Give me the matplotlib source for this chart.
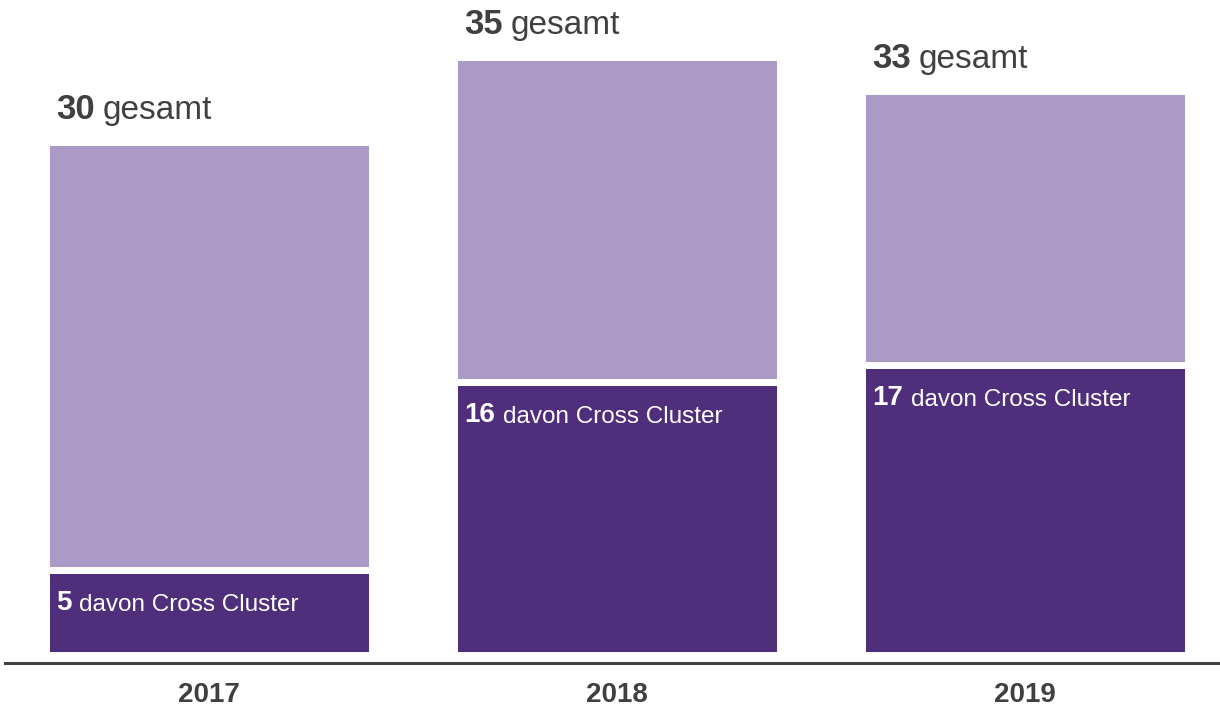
import numpy as np
import matplotlib
matplotlib.use("Agg")
import matplotlib.pyplot as plt

plt.rcParams['font.family'] = ['Liberation Sans', 'DejaVu Sans']

# Daten
years = ['2017', '2018', '2019']
gesamt = [30, 35, 33]
cross_cluster = [5, 16, 17]

rest = [g - c for g, c in zip(gesamt, cross_cluster)]

dunkel = '#4F2F7B'
hell = '#AB9AC5'
grau = '#404040'

fig = plt.figure(figsize=(12.2, 7.06), dpi=100)
ax = fig.add_axes([5 / 1220, (706 - 663) / 706, 1215 / 1220, 657.7 / 706])

x = np.arange(len(years))
breite = 0.8

ax.bar(x, cross_cluster, width=breite, color=dunkel, edgecolor='white', linewidth=5)
ax.bar(x, rest, width=breite, bottom=cross_cluster, color=hell, edgecolor='white', linewidth=5)

# Beschriftungen
for i in range(len(years)):
    t1 = ax.annotate(str(gesamt[i]), xy=(x[i] - breite / 2, gesamt[i]), xytext=(7.5, 16.5),
                     textcoords='offset points', ha='left', va='baseline',
                     fontsize=25, fontweight='bold', color=grau)
    ax.annotate('gesamt', xy=(1, 0), xycoords=t1, xytext=(5.5, 0),
                textcoords='offset points', ha='left', va='bottom',
                fontsize=24, color=grau)

    t2 = ax.annotate(str(cross_cluster[i]), xy=(x[i] - breite / 2, cross_cluster[i]), xytext=(7.5, -14.5),
                     textcoords='offset points', ha='left', va='top',
                     fontsize=20, fontweight='bold', color='white')
    ax.annotate('davon Cross Cluster', xy=(1, 0), xycoords=t2, xytext=(5.5, 0),
                textcoords='offset points', ha='left', va='bottom',
                fontsize=17.5, color='white')

ax.set_xlim(-0.5, 2.478)
ax.set_ylim(-0.44, 38)

ax.set_xticks(x)
ax.set_xticklabels(years, fontsize=20, fontweight='bold', color=grau)
ax.tick_params(axis='x', length=0, pad=14)
ax.set_yticks([])

for s in ['top', 'right', 'left']:
    ax.spines[s].set_visible(False)
ax.spines['bottom'].set_color(grau)
ax.spines['bottom'].set_linewidth(2.2)

fig.savefig('out.png', dpi=100)
